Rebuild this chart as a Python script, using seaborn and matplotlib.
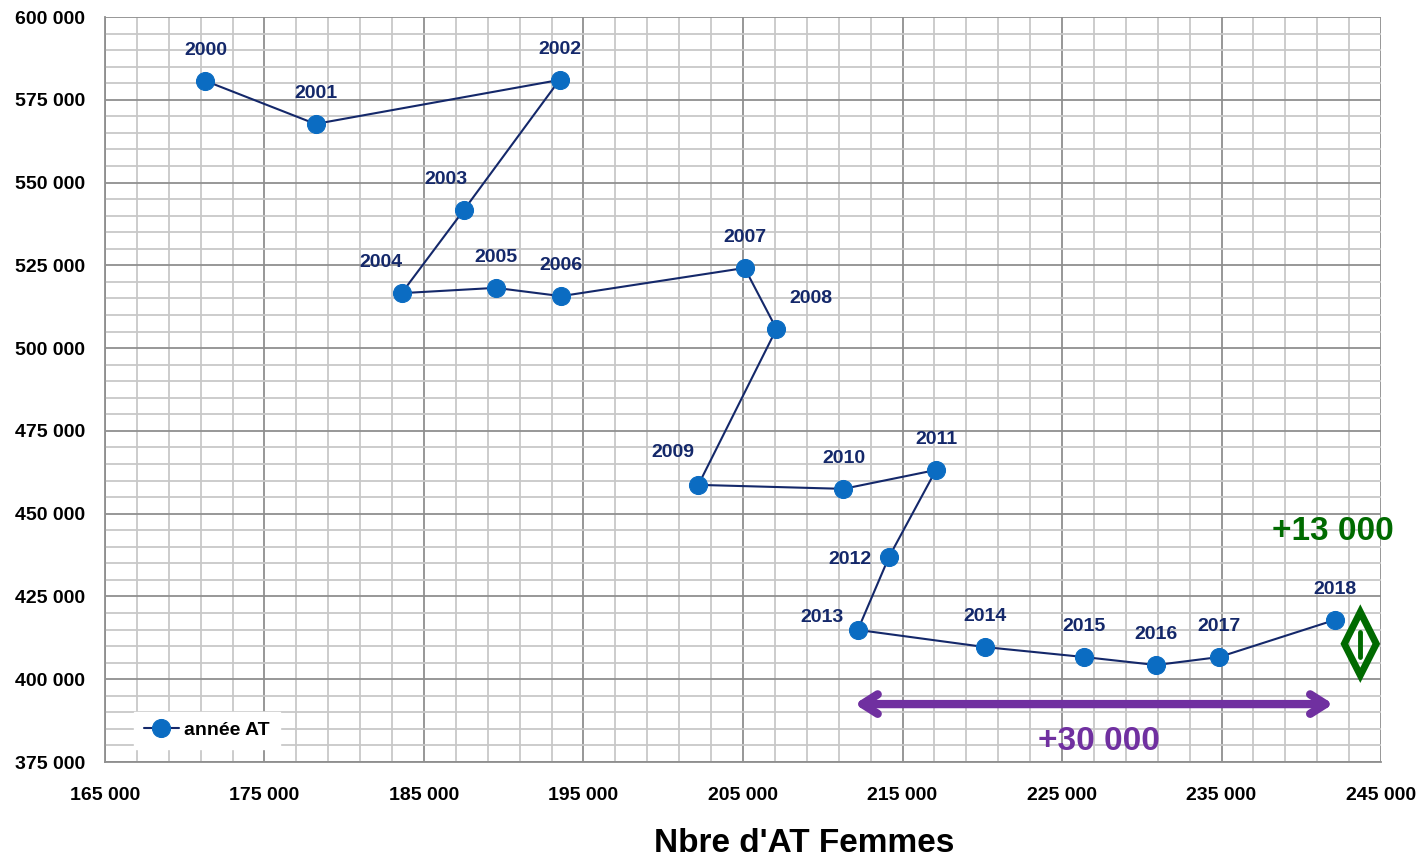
import numpy as np
import pandas as pd
import matplotlib
matplotlib.use('Agg')
import matplotlib.pyplot as plt
import matplotlib.patches as mpatches
from matplotlib.ticker import FuncFormatter
import seaborn as sns

# data
years = list(range(2000, 2019))
at_femmes = [171300, 178200, 193500, 187500, 183600, 189500, 193600, 205100, 207100,
             202200, 211300, 217100, 214150, 212200, 220200, 226400, 230900, 234850, 242100]
at_total = [580700, 567700, 581000, 541700, 516600, 518200, 515700, 524200, 505800,
            458700, 457500, 463200, 436900, 414900, 409700, 406700, 404300, 406700, 417900]

# label offsets in points (dx, dy) for some years
label_offsets = {2003: (-13, 22), 2004: (-15, 22), 2008: (25, 22), 2009: (-18, 23),
                 2012: (-28, -2), 2013: (-26, 9)}

df = pd.DataFrame({'annee': years, 'femmes': at_femmes, 'total': at_total})

sns.set_style('white')
plt.rcParams['font.family'] = ['Liberation Sans', 'DejaVu Sans']
plt.rcParams['font.weight'] = 'bold'
plt.rcParams['text.color'] = 'black'
plt.rcParams['xtick.color'] = 'black'
plt.rcParams['ytick.color'] = 'black'

fig = plt.figure(figsize=(14.22, 8.63), dpi=100)
ax = fig.add_axes([0.0738, 0.1170, 0.8974, 0.8633])

navy = '#14286A'
blue = '#0B6CC2'

sns.lineplot(data=df, x='femmes', y='total', sort=False, estimator=None, ax=ax,
             color=navy, linewidth=1.5, marker='o', markersize=13,
             markerfacecolor=blue, markeredgecolor=blue, label='année AT', zorder=5)

for yr, xv, yv in zip(years, at_femmes, at_total):
    dx, dy = label_offsets.get(yr, (0, 22))
    ax.annotate(str(yr), (xv, yv), xytext=(dx, dy), textcoords='offset points',
                ha='center', va='center', fontsize=14, fontweight='bold', color=navy, zorder=6)

ax.set_xlim(165000, 245000)
ax.set_ylim(375000, 600000)
ax.set_xticks(np.arange(165000, 245001, 10000))
ax.set_xticks(np.arange(165000, 245001, 2000), minor=True)
ax.set_yticks(np.arange(375000, 600001, 25000))
ax.set_yticks(np.arange(375000, 600001, 5000), minor=True)
fmt = FuncFormatter(lambda v, p: f'{int(v):,}'.replace(',', ' '))
ax.xaxis.set_major_formatter(fmt)
ax.yaxis.set_major_formatter(fmt)

ax.grid(which='minor', color='#C8C8C8', linewidth=1.3, zorder=0)
ax.grid(which='major', color='#8F8F8F', linewidth=1.3, zorder=0)
ax.set_axisbelow(True)
for s in ['top', 'right']:
    ax.spines[s].set_visible(False)
for s in ['left', 'bottom']:
    ax.spines[s].set_color('#8F8F8F')
    ax.spines[s].set_linewidth(1.3)
ax.tick_params(which='major', length=6, width=1.3, color='#8F8F8F', direction='out',
               labelsize=14, pad=8, labelcolor='black')
ax.tick_params(axis='x', which='major', pad=12)
ax.tick_params(which='minor', length=0)
for t in ax.get_xticklabels() + ax.get_yticklabels():
    t.set_fontweight('bold')

ax.set_xlabel("Nbre d'AT Femmes", fontsize=24, fontweight='bold', color='black',
              va='center')
ax.xaxis.set_label_coords(0.548, -0.109)
ax.set_ylabel('')

leg = ax.legend(loc='lower left', bbox_to_anchor=(0.015, 0.005), frameon=True,
                fancybox=False, edgecolor='white', framealpha=1, fontsize=14,
                handlelength=1.8, handletextpad=0.3, borderpad=0.5)
for t in leg.get_texts():
    t.set_fontweight('bold')
    t.set_color('black')

# annotations
purple = '#7030A0'
green = '#006A00'
ax.annotate('', xy=(212000, 392500), xytext=(242000, 392500),
            arrowprops=dict(arrowstyle='<->,head_length=1.1,head_width=0.7', color=purple,
                            lw=6, shrinkA=0, shrinkB=0), zorder=7)
ax.text(227300, 381300, '+30 000', color=purple, fontsize=24, fontweight='bold',
        ha='center', va='center', zorder=7)
ax.text(242000, 444500, '+13 000', color=green, fontsize=24, fontweight='bold',
        ha='center', va='center', zorder=7)
cx, cy = 243700, 410700
diamond = mpatches.Polygon([(cx, 420300), (cx + 1000, cy), (cx, 401200), (cx - 1000, cy)],
                           closed=True, fill=False, edgecolor=green, linewidth=5,
                           joinstyle='miter', zorder=7, clip_on=False)
ax.add_patch(diamond)
ax.plot([cx, cx], [406700, 414300], color=green, linewidth=3.5, zorder=7, clip_on=False)

plt.savefig('out.png', dpi=100)
